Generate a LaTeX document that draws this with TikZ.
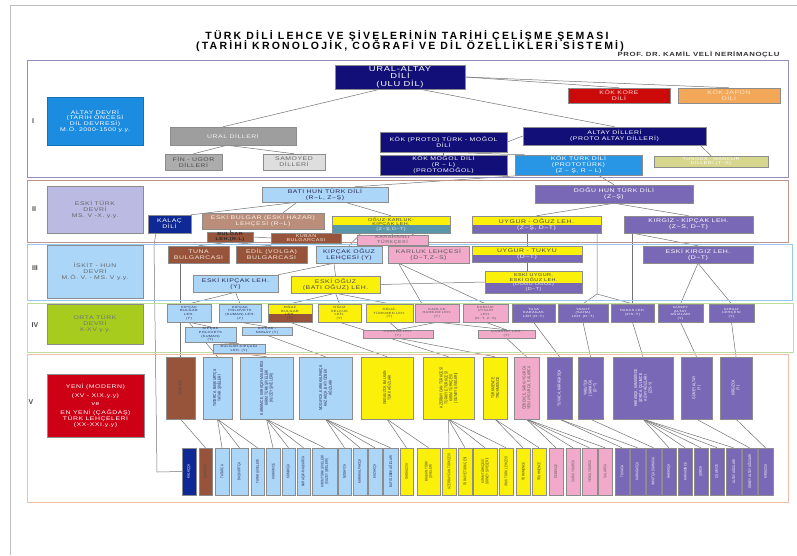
\documentclass[tikz,border=0pt]{standalone}
\usepackage{fontspec}
\setmainfont{Liberation Sans}
\newfontfamily\widef[FakeStretch=1.3,LetterSpace=10]{Liberation Sans}
\newfontfamily\narf[FakeStretch=0.78]{Liberation Sans}
\newfontfamily\titf[LetterSpace=21]{Liberation Sans}
\usetikzlibrary{calc}
\definecolor{cnavy}{RGB}{18,16,120}
\definecolor{cblue}{RGB}{28,140,225}
\definecolor{cblue2}{RGB}{40,150,228}
\definecolor{cgray}{RGB}{158,158,158}
\definecolor{cgray2}{RGB}{172,172,172}
\definecolor{cgray3}{RGB}{222,222,222}
\definecolor{cred}{RGB}{205,10,10}
\definecolor{corange}{RGB}{242,168,88}
\definecolor{ctung}{RGB}{214,214,140}
\definecolor{clav}{RGB}{186,186,226}
\definecolor{clb}{RGB}{172,214,248}
\definecolor{cpur}{RGB}{120,104,182}
\definecolor{cbr1}{RGB}{186,142,122}
\definecolor{cbr2}{RGB}{152,84,58}
\definecolor{cyel}{RGB}{250,240,10}
\definecolor{cteal}{RGB}{90,150,170}
\definecolor{cpink}{RGB}{242,170,202}
\definecolor{cgreen}{RGB}{168,204,30}
\definecolor{cred2}{RGB}{205,0,22}
\definecolor{ckal}{RGB}{14,40,150}
\definecolor{ctxt}{RGB}{40,40,90}
\definecolor{cfI}{RGB}{150,140,190}
\definecolor{cfII}{RGB}{190,150,140}
\definecolor{cfIII}{RGB}{150,200,240}
\definecolor{cfIV}{RGB}{190,222,160}
\definecolor{cfV}{RGB}{240,190,170}
\pgfdeclarelayer{bgfill}
\pgfdeclarelayer{lines}
\pgfsetlayers{bgfill,lines,main}
\newcommand\swg{\textasciitilde}
\newcommand\bx[7]{%
  \pgfmathsetmacro\bxw{#4-#2}%
  \pgfmathsetmacro\bxh{#5-#3}%
  \pgfmathsetmacro\bxx{(#2+#4)/2}%
  \pgfmathsetmacro\bxy{(#3+#5)/2}%
  \node[box,minimum width=\bxw pt,minimum height=\bxh pt,#6] (#1) at (\bxx,\bxy) {#7};}
\newcommand\vbx[8]{%
  \pgfmathsetmacro\bxw{#4-#2}%
  \pgfmathsetmacro\bxh{#5-#3}%
  \pgfmathsetmacro\bxx{(#2+#4)/2}%
  \pgfmathsetmacro\bxy{(#3+#5)/2}%
  \node[box,minimum width=\bxw pt,minimum height=\bxh pt,#6] (#1) at (\bxx,\bxy) {};
  \node[fV,rotate=90,align=center,inner sep=0pt,#7] (#1-t) at (#1.center) {#8};}
\newcommand\lbx[6]{\vbx{#1}{#2}{448}{#3}{495}{#4}{fVs,#5}{#6}}
\newcommand\dk[1]{\textcolor{black!72}{#1}}
\newcommand\wh[1]{\textcolor{white!92!black}{#1}}
\begin{document}
\begin{tikzpicture}[x=1pt,y=-1pt,
  box/.style={draw=black!45,line width=0.45pt,inner sep=0pt,align=center,text=black!75},
  ln/.style={draw=black!55,line width=0.5pt},
  fA/.style={font=\widef\fontsize{5.3}{5.8}\selectfont},
  fB/.style={font=\widef\fontsize{4.2}{4.6}\selectfont},
  fC/.style={font=\widef\fontsize{3.0}{3.7}\selectfont},
  fBig/.style={font=\widef\fontsize{7.2}{7.4}\selectfont},
  fV/.style={font=\narf\fontsize{4.3}{4.8}\selectfont},
  fVs/.style={font=\narf\fontsize{3.8}{4.2}\selectfont},
  frame/.style={line width=0.6pt},
  lab/.style={font=\bfseries\fontsize{7}{7}\selectfont,text=black!70},
  split/.style 2 args={fill=#1,path picture={\fill[#2] ($(path picture bounding box.north west)!0.55!(path picture bounding box.south west)$) rectangle (path picture bounding box.south east);}},
  wt/.style={text=white},
  dt/.style={text=ctxt}
]
\useasboundingbox (0,0) rectangle (797,555);
\begin{pgfonlayer}{bgfill}
\fill[white] (0,0) rectangle (797,555);
\end{pgfonlayer}
\draw[black!25,line width=0.6pt] (10,555) -- (10,5) -- (797,5);

% title
\node[font=\titf\bfseries\fontsize{10.5}{11}\selectfont] (title1) at (407,36) {TÜRK DİLİ LEHCE VE ŞİVELERİNİN TARİHİ ÇELİŞME ŞEMASI};
\node[font=\titf\bfseries\fontsize{10.5}{11}\selectfont] (title2) at (410,46) {(TARİHİ KRONOLOJİK, COĞRAFİ VE DİL ÖZELLİKLERİ SİSTEMİ)};
\node[font=\widef\bfseries\fontsize{6}{6.5}\selectfont,anchor=east,text=black!80] (author) at (783,55) {PROF. DR. KAMİL VELİ NERİMANOÇLU};

% frames
\draw[frame,cfI] (27,60) rectangle (788,177);
\draw[frame,cfII] (27,180) rectangle (788,242);
\draw[frame,cfIII] (27,244) rectangle (792,300);
\draw[frame,cfIV] (27,303) rectangle (793,352);
\draw[frame,cfV] (27,354) rectangle (788,502);
\node[lab] (lI) at (33,121) {I};
\node[lab] (lII) at (34,209) {II};
\node[lab] (lIII) at (35,268) {III};
\node[lab] (lIV) at (35,325) {IV};
\node[lab] (lV) at (31,402) {V};

% period boxes
\bx{altaydevri}{47}{97}{143}{145}{fill=cblue,draw=cblue!80!black,wt,fA}{ALTAY DEVRİ\\(TARİH ÖNCESİ\\DİL DEVRESİ)\\M.Ö. 2000-1500 y.y.}
\bx{eskiturk}{47}{186}{143}{233}{fill=clav,text=black!60,fA}{ESKİ TÜRK\\DEVRİ\\MS. V -X. y.y.}
\bx{iskit}{47}{245}{143}{298}{fill=clb,text=black!60,fA}{İSKİT - HUN\\DEVRİ\\M.Ö. V. - MS. V y.y.}
\bx{orta}{47}{304}{143}{344}{fill=cgreen,text=black!55,fA}{ORTA TÜRK\\DEVRİ\\X-XV y.y.}
\bx{yeni}{47}{374}{144}{437}{fill=cred2,wt,fA}{YENİ (MODERN)\\[3pt](XV - XIX.y.y)\\[3pt]ve\\[3pt]EN YENİ (ÇAĞDAŞ)\\TÜRK LEHÇELERİ\\(XX-XXI.y.y)}

% section I
\bx{uralaltay}{335}{65}{465}{89}{fill=cnavy,wt,fBig}{URAL-ALTAY\\DİLİ\\(ULU DİL)}
\bx{kore}{568}{88}{670}{103}{fill=cred,text=white!85!red,fA}{KÖK KORE\\DİLİ}
\bx{japon}{678}{88}{780}{103}{fill=corange,text=white!80!orange,fA}{KÖK JAPON\\DİLİ}
\bx{ural}{170}{127}{296}{145}{fill=cgray,text=white!90!gray,fA}{URAL DİLLERİ}
\bx{fin}{165}{154}{222}{170}{fill=cgray2,text=black!70,fA}{FİN - UGOR\\DİLLERİ}
\bx{samoyed}{263}{154}{325}{170}{fill=cgray3,text=black!60,fA}{SAMOYED\\DİLLERİ}
\bx{turkmogol}{380}{132}{507}{152}{fill=cnavy,wt,fA}{KÖK (PROTO) TÜRK - MOĞOL\\DİLİ}
\bx{altaydil}{523}{127}{706}{145}{fill=cnavy,wt,fA}{ALTAY DİLLERİ\\(PROTO ALTAY DİLLERİ)}
\bx{mogol}{380}{155}{507}{175}{fill=cnavy,wt,fA}{KÖK MOĞOL DİLİ\\(R \swg{} L)\\(PROTOMOĞOL)}
\bx{kokturk}{515}{155}{642}{175}{fill=cblue2,wt,fA}{KÖK TÜRK DİLİ\\(PROTOTÜRK)\\(Z \swg{} Ş, R \swg{} L)}
\bx{tungus}{654}{156}{768}{167}{fill=ctung,text=white,fB}{TUNGUS - MANCUR\\DİLLERİ (T\swg S)}

% section II
\bx{batihun}{262}{187}{388}{202}{fill=clb,dt,fA}{BATI HUN TÜRK DİLİ\\(R\swg L, Z\swg Ş)}
\bx{doguhun}{535}{185}{693}{203}{fill=cpur,wt,fA}{DOĞU HUN TÜRK DİLİ\\(Z\swg Ş)}
\bx{kalac}{148}{215}{191}{233}{fill=ckal,wt,fA}{KALAÇ\\DİLİ}
\bx{eskibulgar}{202}{213}{324}{229}{fill=cbr1,text=white!88!brown,fA}{ESKİ BULGAR (ESKİ HAZAR)\\LEHÇESİ (R\swg L)}
\bx{okk}{332}{216}{450}{233}{split={cyel}{cteal},fB}{\dk{OĞUZ-KARLUK-}\\\dk{KIPÇAK LEH.}\\\wh{(Z\swg Ş,D\swg T)}}
\bx{uygurpoguz}{472}{216}{601}{233}{split={cyel}{cpur},fA}{\dk{UYGUR - OĞUZ LEH.}\\\wh{(Z\swg Ş, D\swg T)}}
\bx{kirgizkipcak}{624}{216}{753}{233}{fill=cpur,wt,fA}{KIRGIZ - KIPÇAK LEH.\\(Z\swg S, D\swg T)}
\bx{bulgar}{207}{232}{253}{242}{fill=cbr2,text=black!85,font=\widef\bfseries\fontsize{4.2}{4.5}\selectfont}{BULGAR\\LEH.(R-L)}
\bx{kuban}{271}{233}{341}{243}{fill=cbr2,text=white!80!brown,fB}{KUBAN\\BULGARCASI}
\bx{karahanli}{357}{235}{428}{245}{fill=cpink,text=black!60,fB}{KARAHANLI\\TÜRKÇESİ}

% section III
\bx{tuna}{168}{246}{229}{263}{fill=cbr2,text=white!80!brown,fA}{TUNA\\BULGARCASI}
\bx{edil}{236}{246}{307}{263}{fill=cbr2,text=white!80!brown,fA}{EDİL (VOLGA)\\BULGARCASI}
\bx{kipoguz}{316}{246}{382}{263}{fill=clb,dt,fA}{KIPÇAK OĞUZ\\LEHÇESİ (Y)}
\bx{karluk}{388}{246}{469}{263}{fill=cpink,text=black!65,fA}{KARLUK LEHÇESİ\\(D\swg T,Z\swg S)}
\bx{tukyu}{472}{246}{582}{262}{split={cyel}{cpur},fA}{\dk{UYGUR - TUKYU}\\\wh{(D\swg T)}}
\bx{eskikirgiz}{643}{246}{753}{263}{fill=cpur,wt,fA}{ESKİ KIRGIZ LEH.\\(D\swg T)}
\bx{eskikipcak}{193}{275}{278}{292}{fill=clb,dt,fA}{ESKİ KIPÇAK LEH.\\(Y)}
\bx{eskioguz}{291}{276}{380}{293}{fill=cyel,text=black!70,fA}{ESKİ OĞUZ\\(BATI OĞUZ) LEH.}
\bx{eskiuygur}{485}{271}{582}{293}{split={cyel}{cpur},fB}{\dk{ESKİ UYGUR,}\\\dk{ESKİ OĞUZ LEH.}\\\wh{(DOĞU OĞUZ)}\\\wh{(D\swg T)}}

% section IV
\bx{kbulgar}{167}{304}{211}{322}{fill=clb,dt,fC}{KIPÇAK\\BULGAR\\LEH.\\(Y)}
\bx{kpolovets}{219}{304}{261}{322}{fill=clb,dt,fC}{KIPÇAK\\POLOVETS\\(KUMAN) LEH.\\(Y)}
\bx{obulgar}{268}{304}{312}{322}{split={cyel}{cbr2},text=black!75,fC}{OĞUZ\\BULGAR\\LEH.\\(Y)}
\bx{oselcuk}{318}{304}{361}{322}{fill=cyel,text=black!70,fC}{OĞUZ\\SELÇUK\\LEH.\\(Y)}
\bx{oturkmen}{366}{304}{413}{322}{fill=cyel,text=black!70,fC}{OĞUZ-\\TÜRKMEN LEH.\\(Y)}
\bx{kharezm}{415}{304}{459}{322}{fill=cpink,text=black!65,fC}{KARLUK\\HAREZM LEH.\\(Y)}
\bx{kuygur}{463}{304}{508}{322}{fill=cpink,text=black!65,fC}{KARLUK\\UYGUR\\LEH.\\(D\swg T, Z\swg S)}
\bx{tuva}{512}{304}{555}{322}{fill=cpur,wt,fC}{TUVA\\KARAGAS\\LEH (D\swg T)}
\bx{yakut}{558}{304}{608}{322}{fill=cpur,wt,fC}{YAKUT\\(SAHA)\\LEH. (D\swg T)}
\bx{hakas}{611}{304}{654}{322}{fill=cpur,wt,fC}{HAKAS LEH.\\(Z/S\swg Y)}
\bx{gaaltay}{658}{304}{703}{322}{fill=cpur,wt,fC}{GÜNEY\\ALTAY\\AĞIZLARI\\(Y)}
\bx{kirgizleh}{709}{304}{754}{322}{fill=cpur,wt,fC}{KIRGIZ\\LEHÇESİ\\(Y)}
\bx{kpolovets2}{185}{327}{236}{342}{fill=clb,dt,fC}{KIPÇAK\\POLOVETS\\(KUMAN)\\(Y)}
\bx{knogay}{242}{327}{292}{335}{fill=clb,dt,fC}{KIPÇAK -\\NOGAY (Y)}
\bx{kbulgar2}{213}{344}{265}{353}{fill=clb,dt,fC}{BULGAR KIPÇAĞI\\LEH. (Y)}
\bx{harezm}{363}{330}{433}{338}{fill=cpink,text=black!65,fC}{HAREZM LEH.\\(Y)}
\bx{cagatay}{478}{330}{535}{338}{fill=cpink,text=black!65,fC}{ÇAGATAY LEH.\\(Y)}

% section V upper row
\vbx{uc}{166}{357}{195}{419}{fill=cbr2}{text=black!70}{ÇUVAŞÇA}
\vbx{ut}{203}{357}{232}{419}{fill=clb}{dt}{TATARCA, BAŞKURTÇA\\TATAR ŞİVELERİ}
\vbx{uk}{240}{357}{293}{419}{fill=clb}{dt}{KARAİMCE, KARAÇAY-MALKARCA\\KIRIM TÜRK ŞİVELERİ\\(KUZEY ŞİVELERİ)}
\vbx{un}{299}{357}{352}{419}{fill=clb}{dt}{NOGAYCA, KARAKALPAKÇA\\KAZAKÇA, BATI ÖZBEK\\AĞIZLARI}
\vbx{ug}{361}{357}{413}{419}{fill=cyel}{text=black!75}{GAGAUZCA, BALKAN\\TÜRK AĞIZLARI}
\vbx{ua}{423}{357}{474}{419}{fill=cyel}{text=black!75}{AZERBAYCAN TÜRKÇESİ\\TÜRKİYE TÜRKÇESİ\\KIRIM TÜRKÇESİ\\(GÜNEY ŞİVELERİ)}
\vbx{utm}{483}{357}{507}{419}{fill=cyel}{text=black!75}{TÜRKMENCE\\TRUHMENCE}
\vbx{uo}{514}{357}{539}{419}{fill=cpink}{text=black!65}{ÖZBEKÇE, SARI UYGURCA\\YENİ UYGURCA, SALARCA}
\vbx{utv}{547}{357}{572}{419}{fill=cpur}{wt}{TUVACA, KARAGASÇA}
\vbx{uy}{578}{357}{603}{419}{fill=cpur}{wt}{YAKUTÇA\\(SAHACA)\\(D\swg T)}
\vbx{uh}{613}{357}{673}{419}{fill=cpur}{wt}{HAKASÇA, KAMASİNCE\\ŞORCA, ÇULIMCE\\ALTAY AĞIZLARI\\(Z/S\swg Y)}
\vbx{uga}{681}{357}{712}{419}{fill=cpur}{wt}{GÜNEY ALTAY\\(Y)}
\vbx{ukr}{720}{357}{752}{419}{fill=cpur}{wt}{KIRGIZCA\\(Y)}

% section V lower row
\lbx{l1}{182}{196}{fill=ckal}{wt}{KALAÇÇA}
\lbx{l2}{199}{212}{fill=cbr2}{text=black!70}{ÇUVAŞÇA}
\lbx{l3}{215}{229}{fill=clb}{dt}{TATARCA}
\lbx{l4}{231}{248}{fill=clb}{dt}{BAŞKURTÇA}
\lbx{l5}{251}{264}{fill=clb}{dt}{TATAR ŞİVELERİ}
\lbx{l6}{266}{280}{fill=clb}{dt}{KARAİMCE}
\lbx{l7}{282}{295}{fill=clb}{dt}{KUMUKÇA}
\lbx{l8}{297}{310}{fill=clb}{dt}{KARAÇAY-MALKARCA}
\lbx{l9}{312}{337}{fill=clb}{dt}{KIRIM TÜRK ŞİVELERİ\\(KUZEY ŞİVELERİ)}
\lbx{l10}{338}{351}{fill=clb}{dt}{NOGAYCA}
\lbx{l11}{353}{367}{fill=clb}{dt}{KARAKALPAKÇA}
\lbx{l12}{368}{382}{fill=clb}{dt}{KAZAKÇA}
\lbx{l13}{383}{398}{fill=clb}{dt}{BATI ÖZBEK AĞIZLARI}
\lbx{l14}{400}{413}{fill=cyel}{text=black!75}{GAGAUZCA}
\lbx{l15}{417}{440}{fill=cyel}{text=black!75}{BALKAN TÜRK\\ŞİVELERİ}
\lbx{l16}{442}{456}{fill=cyel}{text=black!75}{AZERBAYCAN TÜRKÇESİ}
\lbx{l17}{458}{472}{fill=cyel}{text=black!75}{TÜRKİYE TÜRKÇESİ}
\lbx{l18}{473}{497}{fill=cyel}{text=black!75}{KIRIM TÜRKÇESİ\\(GÜNEY ŞİVELERİ)}
\lbx{l19}{499}{513}{fill=cyel}{text=black!75}{IRAK TÜRK LEHÇESİ}
\lbx{l20}{516}{530}{fill=cyel}{text=black!75}{TÜRKMENCE}
\lbx{l21}{532}{546}{fill=cyel}{text=black!75}{TRUHMENCE}
\lbx{l22}{549}{563}{fill=cpink}{text=black!65}{ÖZBEKÇE}
\lbx{l23}{566}{580}{fill=cpink}{text=black!65}{SARI UYGURCA}
\lbx{l24}{582}{597}{fill=cpink}{text=black!65}{YENİ UYGURCA}
\lbx{l25}{598}{612}{fill=cpink}{text=black!65}{SALARCA}
\lbx{l26}{615}{629}{fill=cpur}{wt}{TUVACA}
\lbx{l27}{630}{645}{fill=cpur}{wt}{KARAGASÇA}
\lbx{l28}{646}{661}{fill=cpur}{wt}{YAKUTÇA (SAHACA)}
\lbx{l29}{662}{676}{fill=cpur}{wt}{HAKASÇA}
\lbx{l30}{678}{692}{fill=cpur}{wt}{KAMASİNCE}
\lbx{l31}{694}{708}{fill=cpur}{wt}{ŞORCA}
\lbx{l32}{710}{724}{fill=cpur}{wt}{ÇULIMCE}
\lbx{l33}{726}{741}{fill=cpur}{wt}{ALTAY AĞIZLARI}
\lbx{l34}{742}{757}{fill=cpur}{wt}{GÜNEY ALTAY AĞIZLARI}
\lbx{l35}{758}{773}{fill=cpur}{wt}{KIRGIZCA}

% connectors, behind the boxes
\begin{pgfonlayer}{lines}
\begin{scope}[ln]
% I
\draw ([xshift=-20]uralaltay.south) -- ([xshift=-10]ural.north);
\draw (uralaltay.east) -- (kore.north);
\draw (uralaltay.east) -- (japon.north);
\draw ([xshift=20]uralaltay.south) -- (altaydil.north);
\draw ([xshift=-6]altaydil.south east) -- (tungus.north);
\draw (altaydil.west) -- (turkmogol.east);
\draw ([xshift=-6]ural.south) -- (fin.north);
\draw ([xshift=-6]ural.south) -- (samoyed.north);
\draw (turkmogol.south) -- (mogol.north);
\draw (turkmogol.south) -- ([xshift=10]kokturk.north west);
% II
\draw ([xshift=10]kokturk.south west) -- ([xshift=30]batihun.north);
\draw ([xshift=20]kokturk.south) -- (doguhun.north);
\draw ([xshift=-28]batihun.south) -- (kalac.north east);
\draw ([xshift=-28]batihun.south) -- ([xshift=20]eskibulgar.north);
\draw ([xshift=20]batihun.south) -- (okk.north);
\draw ([xshift=-33]eskibulgar.south) -- (bulgar.north);
\draw (bulgar.east) -- (kuban.west);
\draw (bulgar.south) -- (tuna.north);
\draw (bulgar.south) -- (edil.north);
\draw (okk.south) -- (karahanli.north);
\draw ([xshift=-30]okk.south) -- (kipoguz.north);
\draw ([xshift=20]okk.south) -- (karluk.north);
\draw (doguhun.south) -- (uygurpoguz.north);
\draw (doguhun.south) -- (kirgizkipcak.north);
\draw (tukyu.north) -- (tukyu.north |- uygurpoguz.south);
\draw (tukyu.south) -- (tukyu.south |- eskiuygur.north);
\draw ([xshift=9]kirgizkipcak.south west) -- (eskikirgiz.north);
\draw (hakas.north) -- (hakas.north |- kirgizkipcak.south);
\coordinate (uyj) at (597,294);
\draw ([xshift=-4]uygurpoguz.south east) -- (uyj) -- (yakut.north);
\draw (uyj) -- (hakas.north);
\draw (eskikirgiz.south) -- (gaaltay.north);
\draw (eskikirgiz.south) -- (kirgizleh.north);
% III
\draw ([xshift=-15]kipoguz.south) -- (eskikipcak.north east);
\draw ([xshift=-15]kipoguz.south) -- (eskioguz.north);
\draw (eskioguz.east) -- (eskiuygur.west);
\draw ([xshift=-30]karluk.south) -- ([xshift=-15]kharezm.north);
\draw ([xshift=-30]karluk.south) -- (kuygur.north);
\draw (eskikipcak.south) -- (kbulgar.north);
\draw (eskikipcak.south) -- (kpolovets.north);
\draw (eskioguz.south) -- (obulgar.north);
\draw (eskioguz.south) -- (oselcuk.north);
\draw (eskioguz.south) -- (oturkmen.north);
\coordinate (kj1) at (154,246);
\coordinate (kj2) at (157,472);
\draw ([xshift=8]kalac.south west) -- (kj1) -- (kj2) -- (l1.west);
\draw (uc.north) -- (uc.north |- tuna.south);
% IV
\draw (kbulgar.south) -- (kpolovets2.north);
\draw (kpolovets.south) -- (knogay.north);
\draw (kpolovets2.south) -- (kbulgar2.north);
\draw (oturkmen.south) -- (harezm.north);
\draw (kharezm.south) -- (harezm.north);
\draw (kharezm.south) -- (cagatay.north);
\draw (kuygur.south) -- (cagatay.north);
% IV -> V
\draw (kbulgar.south) -- (ut.north);
\draw (kbulgar2.south) -- (uk.north);
\draw (knogay.south) -- (un.north);
\draw (obulgar.south) -- (ug.north);
\draw (oselcuk.south) -- (ua.north);
\draw (harezm.south) -- (utm.north);
\draw (cagatay.south) -- (uo.north);
\draw (tuva.south) -- (utv.north);
\draw (yakut.south) -- (uy.north);
\draw (hakas.south) -- (uh.north);
\draw (gaaltay.south) -- (uga.north);
\draw (kirgizleh.south) -- (ukr.north);
% V fan-outs
\draw (uc.south) -- (l2.north);
\foreach \t in {l3,l4,l5} \draw (ut.south) -- (\t.north);
\foreach \t in {l6,l7,l8,l9} \draw (uk.south) -- (\t.north);
\foreach \t in {l10,l11,l12,l13} \draw (un.south) -- (\t.north);
\foreach \t in {l14,l15} \draw (ug.south) -- (\t.north);
\foreach \t in {l16,l17,l18,l19} \draw (ua.south) -- (\t.north);
\foreach \t in {l20,l21} \draw (utm.south) -- (\t.north);
\foreach \t in {l22,l23,l24,l25} \draw (uo.south) -- (\t.north);
\foreach \t in {l26,l27} \draw (utv.south) -- (\t.north);
\draw (uy.south) -- (l28.north);
\foreach \t in {l29,l30,l31,l32,l33} \draw (uh.south) -- (\t.north);
\draw (uga.south) -- (l34.north);
\draw (ukr.south) -- (l35.north);
\end{scope}
\end{pgfonlayer}
\end{tikzpicture}
\end{document}
